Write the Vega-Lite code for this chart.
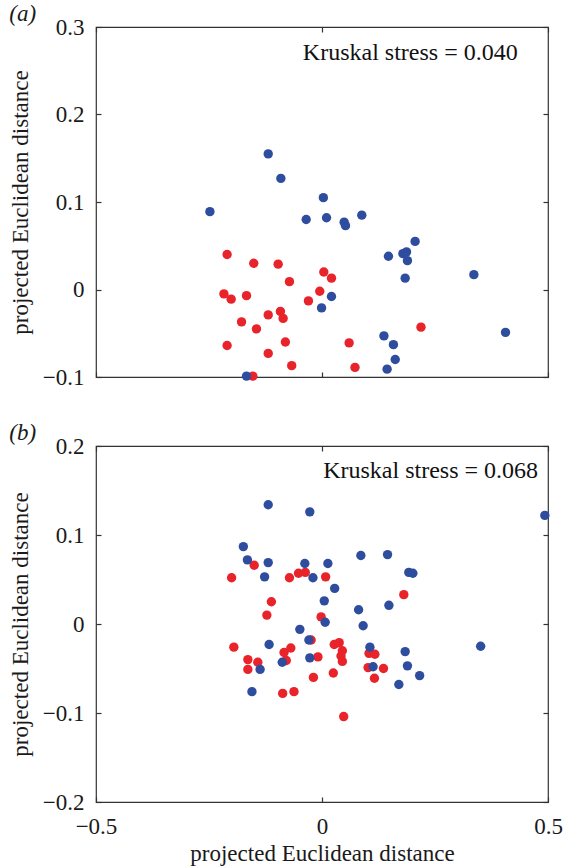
{
  "$schema": "https://vega.github.io/schema/vega-lite/v6.json",
  "background": "white",
  "padding": {"left": 8, "top": 2, "right": 10, "bottom": 0},
  "config": {
    "font": "Liberation Serif",
    "view": {"stroke": "#333333", "strokeWidth": 1.2},
    "axis": {
      "domain": false, "grid": false, "tickColor": "#333333", "tickSize": -5, "tickWidth": 1.2,
      "labelFont": "Liberation Serif", "labelFontSize": 23, "labelColor": "#1a1a1a", "labelOverlap": false, "labelFlush": false,
      "titleFont": "Liberation Serif", "titleFontSize": 23, "titleFontWeight": "normal", "titleColor": "#1a1a1a"
    },
    "title": {"font": "Liberation Serif", "fontSize": 23, "fontWeight": "normal", "fontStyle": "italic", "anchor": "start", "frame": "bounds", "color": "#1a1a1a", "offset": -10},
    "concat": {"spacing": 31}
  },
  "datasets": {
    "a": [
      {"g": "red", "x": -0.210, "y": 0.040},
      {"g": "red", "x": -0.151, "y": 0.030},
      {"g": "red", "x": -0.097, "y": 0.029},
      {"g": "red", "x": -0.072, "y": 0.009},
      {"g": "red", "x": -0.217, "y": -0.005},
      {"g": "red", "x": -0.201, "y": -0.011},
      {"g": "red", "x": -0.167, "y": -0.007},
      {"g": "red", "x": -0.005, "y": -0.002},
      {"g": "red", "x": -0.030, "y": -0.013},
      {"g": "red", "x": 0.004, "y": 0.020},
      {"g": "red", "x": 0.021, "y": 0.013},
      {"g": "red", "x": -0.119, "y": -0.029},
      {"g": "red", "x": -0.092, "y": -0.025},
      {"g": "red", "x": -0.086, "y": -0.033},
      {"g": "red", "x": -0.178, "y": -0.037},
      {"g": "red", "x": -0.145, "y": -0.045},
      {"g": "red", "x": -0.210, "y": -0.064},
      {"g": "red", "x": -0.081, "y": -0.060},
      {"g": "red", "x": -0.119, "y": -0.073},
      {"g": "red", "x": -0.067, "y": -0.087},
      {"g": "red", "x": -0.153, "y": -0.099},
      {"g": "red", "x": 0.219, "y": -0.043},
      {"g": "red", "x": 0.060, "y": -0.061},
      {"g": "red", "x": 0.073, "y": -0.089},
      {"g": "blue", "x": -0.119, "y": 0.155},
      {"g": "blue", "x": -0.091, "y": 0.127},
      {"g": "blue", "x": -0.248, "y": 0.089},
      {"g": "blue", "x": 0.003, "y": 0.105},
      {"g": "blue", "x": -0.035, "y": 0.080},
      {"g": "blue", "x": 0.010, "y": 0.082},
      {"g": "blue", "x": 0.049, "y": 0.077},
      {"g": "blue", "x": 0.052, "y": 0.073},
      {"g": "blue", "x": 0.088, "y": 0.085},
      {"g": "blue", "x": 0.206, "y": 0.055},
      {"g": "blue", "x": 0.147, "y": 0.038},
      {"g": "blue", "x": 0.179, "y": 0.041},
      {"g": "blue", "x": 0.187, "y": 0.043},
      {"g": "blue", "x": 0.189, "y": 0.033},
      {"g": "blue", "x": 0.184, "y": 0.013},
      {"g": "blue", "x": 0.336, "y": 0.017},
      {"g": "blue", "x": 0.021, "y": -0.008},
      {"g": "blue", "x": -0.001, "y": -0.021},
      {"g": "blue", "x": 0.137, "y": -0.053},
      {"g": "blue", "x": 0.158, "y": -0.063},
      {"g": "blue", "x": 0.162, "y": -0.080},
      {"g": "blue", "x": 0.144, "y": -0.091},
      {"g": "blue", "x": 0.406, "y": -0.049},
      {"g": "blue", "x": -0.167, "y": -0.099}
    ],
    "b": [
      {"g": "red", "x": -0.150, "y": 0.066},
      {"g": "red", "x": -0.200, "y": 0.052},
      {"g": "red", "x": -0.072, "y": 0.052},
      {"g": "red", "x": -0.052, "y": 0.057},
      {"g": "red", "x": -0.037, "y": 0.058},
      {"g": "red", "x": 0.008, "y": 0.053},
      {"g": "red", "x": -0.112, "y": 0.025},
      {"g": "red", "x": -0.122, "y": 0.010},
      {"g": "red", "x": -0.002, "y": 0.008},
      {"g": "red", "x": 0.181, "y": 0.033},
      {"g": "red", "x": -0.195, "y": -0.026},
      {"g": "red", "x": -0.164, "y": -0.040},
      {"g": "red", "x": -0.142, "y": -0.043},
      {"g": "red", "x": -0.164, "y": -0.051},
      {"g": "red", "x": -0.084, "y": -0.032},
      {"g": "red", "x": -0.069, "y": -0.027},
      {"g": "red", "x": -0.079, "y": -0.041},
      {"g": "red", "x": -0.024, "y": -0.018},
      {"g": "red", "x": -0.009, "y": -0.037},
      {"g": "red", "x": 0.027, "y": -0.023},
      {"g": "red", "x": 0.038, "y": -0.021},
      {"g": "red", "x": 0.045, "y": -0.030},
      {"g": "red", "x": 0.042, "y": -0.036},
      {"g": "red", "x": 0.045, "y": -0.042},
      {"g": "red", "x": 0.025, "y": -0.055},
      {"g": "red", "x": -0.019, "y": -0.060},
      {"g": "red", "x": -0.087, "y": -0.078},
      {"g": "red", "x": -0.062, "y": -0.076},
      {"g": "red", "x": 0.048, "y": -0.104},
      {"g": "red", "x": 0.104, "y": -0.033},
      {"g": "red", "x": 0.117, "y": -0.034},
      {"g": "red", "x": 0.102, "y": -0.049},
      {"g": "red", "x": 0.136, "y": -0.050},
      {"g": "red", "x": 0.116, "y": -0.061},
      {"g": "blue", "x": -0.119, "y": 0.134},
      {"g": "blue", "x": -0.027, "y": 0.126},
      {"g": "blue", "x": 0.493, "y": 0.122},
      {"g": "blue", "x": -0.174, "y": 0.087},
      {"g": "blue", "x": -0.165, "y": 0.072},
      {"g": "blue", "x": -0.119, "y": 0.069},
      {"g": "blue", "x": -0.127, "y": 0.053},
      {"g": "blue", "x": -0.038, "y": 0.068},
      {"g": "blue", "x": 0.013, "y": 0.068},
      {"g": "blue", "x": -0.020, "y": 0.052},
      {"g": "blue", "x": 0.028, "y": 0.040},
      {"g": "blue", "x": 0.005, "y": 0.026},
      {"g": "blue", "x": 0.086, "y": 0.077},
      {"g": "blue", "x": 0.145, "y": 0.078},
      {"g": "blue", "x": 0.192, "y": 0.058},
      {"g": "blue", "x": 0.201, "y": 0.057},
      {"g": "blue", "x": 0.148, "y": 0.021},
      {"g": "blue", "x": 0.081, "y": 0.016},
      {"g": "blue", "x": 0.007, "y": 0.002},
      {"g": "blue", "x": 0.091, "y": -0.002},
      {"g": "blue", "x": -0.049, "y": -0.006},
      {"g": "blue", "x": -0.029, "y": -0.018},
      {"g": "blue", "x": -0.117, "y": -0.023},
      {"g": "blue", "x": -0.027, "y": -0.038},
      {"g": "blue", "x": -0.088, "y": -0.043},
      {"g": "blue", "x": -0.137, "y": -0.051},
      {"g": "blue", "x": -0.155, "y": -0.076},
      {"g": "blue", "x": 0.106, "y": -0.026},
      {"g": "blue", "x": 0.184, "y": -0.031},
      {"g": "blue", "x": 0.113, "y": -0.048},
      {"g": "blue", "x": 0.189, "y": -0.047},
      {"g": "blue", "x": 0.216, "y": -0.058},
      {"g": "blue", "x": 0.170, "y": -0.068},
      {"g": "blue", "x": 0.351, "y": -0.025}
    ]
  },
  "vconcat": [
    {
      "title": {"text": "(a)"},
      "width": 452,
      "height": 350,
      "layer": [
        {
          "data": {"name": "a"},
          "mark": {"type": "circle", "size": 88, "opacity": 1},
          "encoding": {
            "x": {"field": "x", "type": "quantitative", "scale": {"domain": [-0.5, 0.5], "nice": false, "zero": false},
                  "axis": {"orient": "bottom", "values": [-0.5, 0, 0.5], "labels": false, "title": null}},
            "y": {"field": "y", "type": "quantitative", "scale": {"domain": [-0.1, 0.3], "nice": false, "zero": false},
                  "axis": {"orient": "left", "values": [-0.1, 0, 0.1, 0.2, 0.3], "format": "~g", "labelPadding": 17, "title": "projected Euclidean distance", "titlePadding": 10}},
            "color": {"field": "g", "type": "nominal", "scale": {"domain": ["blue", "red"], "range": ["#2f4d9e", "#e8232a"]}, "legend": null}
          }
        },
        {
          "data": {"values": [{"label": "Kruskal stress = 0.040"}]},
          "mark": {"type": "text", "fontSize": 24, "align": "right", "baseline": "middle", "font": "Liberation Serif", "color": "#111111"},
          "encoding": {
            "x": {"datum": 0.433, "type": "quantitative", "axis": {"orient": "top", "values": [-0.5, 0, 0.5], "labels": false, "title": null}},
            "y": {"datum": 0.27, "type": "quantitative", "axis": {"orient": "right", "values": [-0.1, 0, 0.1, 0.2, 0.3], "labels": false, "title": null}},
            "text": {"field": "label", "type": "nominal"}
          }
        }
      ],
      "resolve": {"axis": {"x": "independent", "y": "independent"}}
    },
    {
      "title": {"text": "(b)"},
      "width": 452,
      "height": 356,
      "layer": [
        {
          "data": {"name": "b"},
          "mark": {"type": "circle", "size": 88, "opacity": 1},
          "encoding": {
            "x": {"field": "x", "type": "quantitative", "scale": {"domain": [-0.5, 0.5], "nice": false, "zero": false},
                  "axis": {"orient": "bottom", "values": [-0.5, 0, 0.5], "format": "~g", "labelPadding": 18, "title": "projected Euclidean distance", "titlePadding": 4}},
            "y": {"field": "y", "type": "quantitative", "scale": {"domain": [-0.2, 0.2], "nice": false, "zero": false},
                  "axis": {"orient": "left", "values": [-0.2, -0.1, 0, 0.1, 0.2], "format": "~g", "labelPadding": 17, "title": "projected Euclidean distance", "titlePadding": 10}},
            "color": {"field": "g", "type": "nominal", "scale": {"domain": ["blue", "red"], "range": ["#2f4d9e", "#e8232a"]}, "legend": null}
          }
        },
        {
          "data": {"values": [{"label": "Kruskal stress = 0.068"}]},
          "mark": {"type": "text", "fontSize": 24, "align": "right", "baseline": "middle", "font": "Liberation Serif", "color": "#111111"},
          "encoding": {
            "x": {"datum": 0.478, "type": "quantitative", "axis": {"orient": "top", "values": [-0.5, 0, 0.5], "labels": false, "title": null}},
            "y": {"datum": 0.172, "type": "quantitative", "axis": {"orient": "right", "values": [-0.2, -0.1, 0, 0.1, 0.2], "labels": false, "title": null}},
            "text": {"field": "label", "type": "nominal"}
          }
        }
      ],
      "resolve": {"axis": {"x": "independent", "y": "independent"}}
    }
  ]
}
